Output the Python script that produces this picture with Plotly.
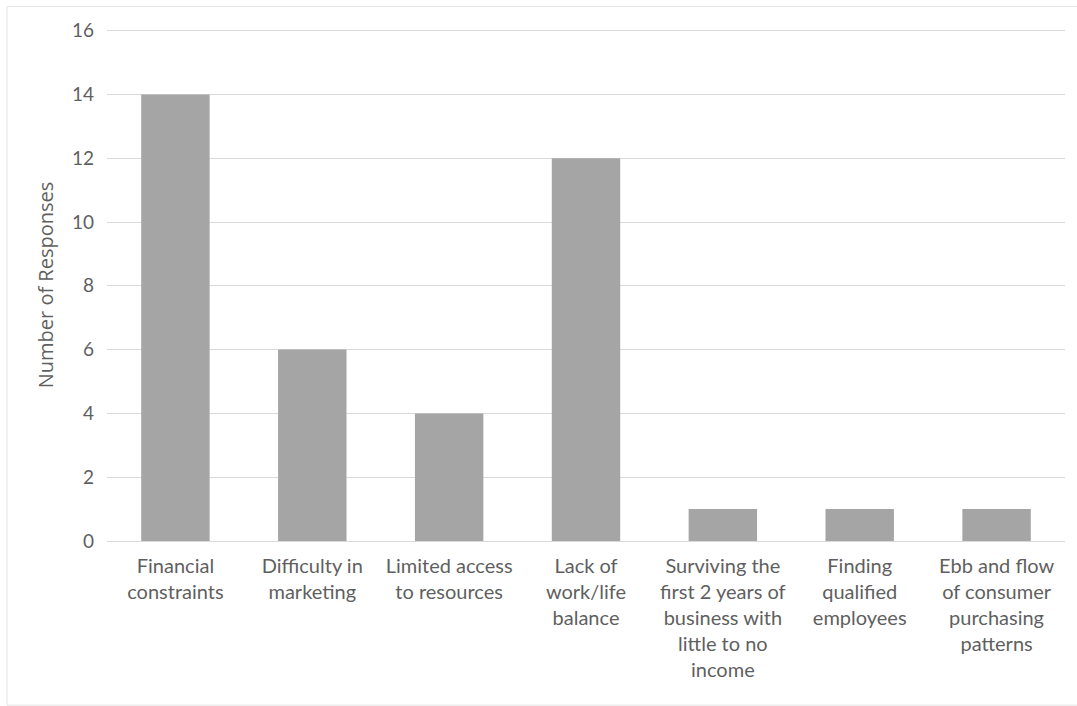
import plotly.graph_objects as go

categories = [
    "Financial<br>constraints",
    "Difficulty in<br>marketing",
    "Limited access<br>to resources",
    "Lack of<br>work/life<br>balance",
    "Surviving the<br>first 2 years of<br>business with<br>little to no<br>income",
    "Finding<br>qualified<br>employees",
    "Ebb and flow<br>of consumer<br>purchasing<br>patterns",
]
responses = [14, 6, 4, 12, 1, 1, 1]
y_ticks = [0, 2, 4, 6, 8, 10, 12, 14, 16]

text_color = "#5f5f5f"
font_family = "Lato, 'Open Sans', sans-serif"

fig = go.Figure(
    go.Bar(
        x=categories,
        y=responses,
        marker=dict(color="#a5a5a5", line=dict(width=0)),
    )
)

W, H = 1077, 706
y_top = 16.05
ml, mr, mb = 107, 12, 165
ph = 510 * y_top / 16
mt = H - mb - ph
pw = W - ml - mr

def px2x(px):
    return (px - ml) / pw

def py2y(py):
    return (H - mb - py) / ph

fig.update_layout(
    width=W,
    height=H,
    margin=dict(l=ml, r=mr, t=mt, b=mb),
    paper_bgcolor="white",
    plot_bgcolor="white",
    bargap=0.5,
    showlegend=False,
    font=dict(family=font_family, size=20, color=text_color),
    xaxis=dict(
        showgrid=False,
        showline=True,
        linecolor="#d9d9d9",
        linewidth=1,
        ticks="",
        tickfont=dict(size=20, color=text_color),
        tickangle=0,
        ticklabelstandoff=7,
    ),
    yaxis=dict(
        range=[0, y_top],
        tickvals=y_ticks,
        showgrid=True,
        gridcolor="#d9d9d9",
        gridwidth=1,
        zeroline=False,
        showline=False,
        ticks="",
        tickfont=dict(size=19, color=text_color),
        ticklabelstandoff=12,
        title=dict(
            text="Number of Responses",
            font=dict(family="Open Sans, sans-serif", size=20, color=text_color),
            standoff=12,
        ),
    ),
    shapes=[
        dict(
            type="rect",
            xref="paper",
            yref="paper",
            x0=px2x(7),
            x1=px2x(1090),
            y0=py2y(705),
            y1=py2y(7),
            line=dict(color="#e3e3e3", width=1),
            fillcolor="rgba(0,0,0,0)",
            layer="below",
        )
    ],
)

fig.write_html("out.html")
